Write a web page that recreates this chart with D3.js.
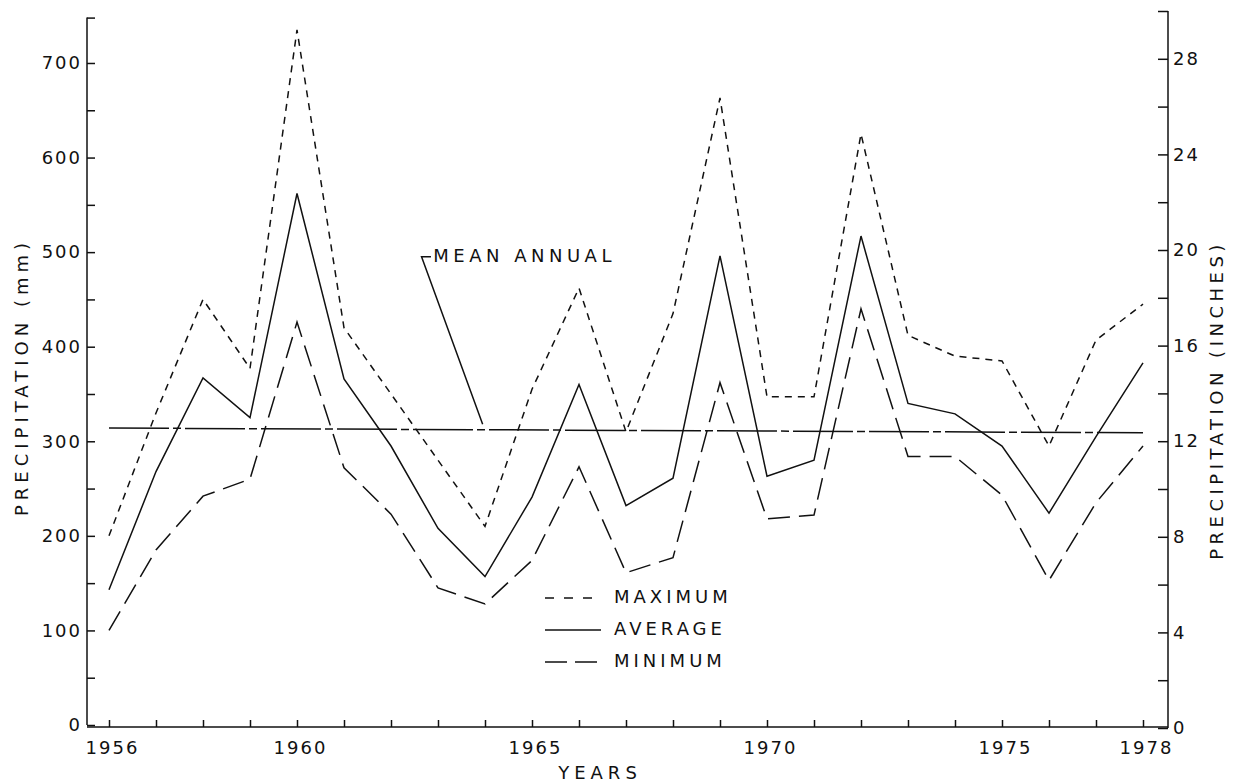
<!DOCTYPE html>
<html><head><meta charset="utf-8">
<script src="https://cdn.jsdelivr.net/npm/d3@7"></script>
<style>
body{margin:0;background:#fff}
svg{display:block}
text{font-family:"DejaVu Sans",sans-serif;fill:#111}
</style>
</head><body>
<svg id="chart" width="1240" height="784"></svg>
<script>
// ---- data ----
const years = [1956,1957,1958,1959,1960,1961,1962,1963,1964,1965,1966,1967,1968,1969,1970,1971,1972,1973,1974,1975,1976,1977,1978];
const maximum = [200,330,450,377,735,420,350,280,210,355,462,310,435,663,347,347,625,412,390,385,295,407,445];
const average = [143,268,367,325,562,366,295,208,157,241,360,232,261,496,263,280,517,340,329,295,224,305,383];
const minimum = [100,185,242,260,426,272,223,145,128,174,273,161,177,362,218,222,440,284,284,243,153,235,295];
const meanAnnual = [{year:1956, mm:314},{year:1978, mm:309}];
const mmTicks = [0,100,200,300,400,500,600,700];
const mmMinor = [50,150,250,350,450,550,650];
const inchTicks = [0,4,8,12,16,20,24,28];
const inchMinor = [2,6,10,14,18,22,26];
const yearLabels = [1956,1960,1965,1970,1975,1978];
const legendItems = ["MAXIMUM","AVERAGE","MINIMUM"];

// ---- scales ----
const svg = d3.select("#chart");
const x = d3.scaleLinear().domain([1956,1978]).range([109,1143]);
const yL = d3.scaleLinear().domain([0,750]).range([725,15.7]);
const yR = d3.scaleLinear().domain([0,30]).range([728,11]);
const leftX = 87, rightX = 1168, baseY = 727;
const ink = "#111";

// ---- axes ----
const gL = svg.append("g").attr("transform",`translate(${leftX},0)`);
gL.call(d3.axisLeft(yL).tickValues(mmTicks).tickSizeInner(-8).tickSizeOuter(0).tickPadding(5));
gL.append("g").call(d3.axisLeft(yL).tickValues(mmMinor.concat([748])).tickSizeInner(-8).tickSizeOuter(0).tickFormat(""))
  .select(".domain").remove();
gL.select(".domain").remove();
gL.append("line").attr("x1",0).attr("x2",0).attr("y1",yL(0)).attr("y2",yL(748));

const gR = svg.append("g").attr("transform",`translate(${rightX},0)`);
gR.call(d3.axisRight(yR).tickValues(inchTicks).tickSizeInner(-10).tickSizeOuter(0).tickPadding(5));
gR.append("g").call(d3.axisRight(yR).tickValues(inchMinor.concat([30])).tickSizeInner(-10).tickSizeOuter(0).tickFormat(""))
  .select(".domain").remove();
gR.select(".domain").remove();
gR.append("line").attr("x1",0).attr("x2",0).attr("y1",yR(0)).attr("y2",yR(30));

const gB = svg.append("g").attr("transform",`translate(0,${baseY})`);
gB.call(d3.axisBottom(x).tickValues(years).tickSizeInner(-7).tickSizeOuter(0).tickPadding(14)
   .tickFormat(d => yearLabels.includes(d) ? String(d) : ""));
gB.select(".domain").remove();
gB.append("line").attr("x1",leftX).attr("x2",rightX).attr("y1",0).attr("y2",0);

svg.selectAll(".tick line, g > line").attr("stroke",ink).attr("stroke-width",1.5);
svg.selectAll(".tick text").attr("font-size",18).attr("letter-spacing",2)
   .attr("font-family","DejaVu Sans").attr("fill",ink);
gB.selectAll(".tick text").attr("dx",3);

// ---- axis titles ----
svg.append("text").attr("transform",`translate(23,377) rotate(-90)`)
  .attr("text-anchor","middle").attr("font-size",18).attr("letter-spacing",5).attr("dominant-baseline","middle")
  .text("PRECIPITATION (mm)");
svg.append("text").attr("transform",`translate(1218,400) rotate(-90)`)
  .attr("text-anchor","middle").attr("font-size",18).attr("letter-spacing",4.5).attr("dominant-baseline","middle")
  .text("PRECIPITATION (INCHES)");
svg.append("text").attr("x",600).attr("y",779).attr("text-anchor","middle")
  .attr("font-size",18).attr("letter-spacing",5).text("YEARS");

// ---- series ----
const line = d3.line().x(d => x(d[0])).y(d => yL(d[1]));
const series = [
  {name:"MAXIMUM", vals:maximum, dash:"7,6"},
  {name:"AVERAGE", vals:average, dash:null},
  {name:"MINIMUM", vals:minimum, dash:"22,9"}
];
series.forEach(s => {
  svg.append("path").datum(years.map((yr,i)=>[yr,s.vals[i]]))
    .attr("d",line).attr("fill","none").attr("stroke",ink).attr("stroke-width",1.5)
    .attr("stroke-dasharray",s.dash);
});

// mean annual line
svg.append("path").datum(meanAnnual.map(d=>[d.year,d.mm]))
  .attr("d",line).attr("fill","none").attr("stroke",ink).attr("stroke-width",1.5)
  .attr("stroke-dasharray","60,4,8,4");

// annotation
const corner = [1962.65, 495], tip = [1963.95, 318];
svg.append("path").datum([[1962.85,495], corner, tip]).attr("d",line)
  .attr("fill","none").attr("stroke",ink).attr("stroke-width",1.5);
svg.append("text").attr("x",x(1962.9)).attr("y",yL(495)).attr("dominant-baseline","middle")
  .attr("font-size",18).attr("letter-spacing",4.5).text("MEAN ANNUAL");

// ---- legend ----
const lg = svg.append("g");
legendItems.forEach((name,i) => {
  const s = series.find(d=>d.name===name);
  const yy = 598 + i*32;
  lg.append("line").attr("x1",545).attr("x2",601).attr("y1",yy).attr("y2",yy)
    .attr("stroke",ink).attr("stroke-width",1.5).attr("stroke-dasharray", name==="MAXIMUM" ? "9,10" : (name==="MINIMUM" ? "22,8" : null));
  lg.append("text").attr("x",614).attr("y",yy).attr("dominant-baseline","middle")
    .attr("font-size",18).attr("letter-spacing",4).text(name);
});
</script>
</body></html>
